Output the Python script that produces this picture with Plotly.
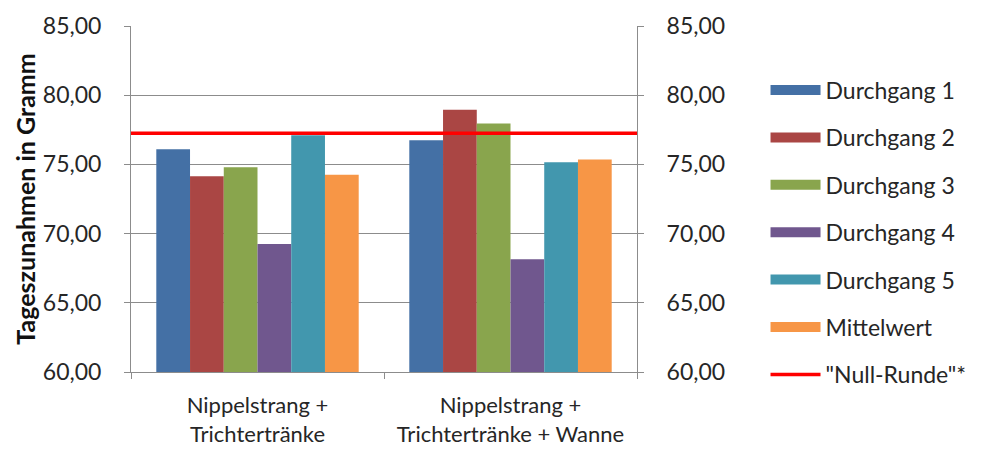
import plotly.graph_objects as go

categories = ["Nippelstrang +<br>Trichtertränke", "Nippelstrang +<br>Trichtertränke + Wanne"]
series_names = ["Durchgang 1", "Durchgang 2", "Durchgang 3", "Durchgang 4", "Durchgang 5", "Mittelwert"]
durchgang_1 = [76.10, 76.75]
durchgang_2 = [74.15, 78.95]
durchgang_3 = [74.80, 77.95]
durchgang_4 = [69.25, 68.15]
durchgang_5 = [77.10, 75.15]
mittelwert = [74.25, 75.35]
null_runde = 77.25
null_runde_name = '"Null-Runde"*'
y_ticks = [60, 65, 70, 75, 80, 85]

series_values = [durchgang_1, durchgang_2, durchgang_3, durchgang_4, durchgang_5, mittelwert]
colors = ['#4470A5', '#AA4644', '#89A54D', '#70578E', '#4297AE', '#F79646']

font_family = "Lato, Carlito, Calibri, sans-serif"
grid_color = '#8C8C8C'
text_color = '#262626'

fig = go.Figure()

for i, (name, vals) in enumerate(zip(series_names, series_values)):
    fig.add_trace(go.Bar(
        x=categories, y=vals, name=name,
        marker_color=colors[i], marker_line_width=0,
        legendgroup=name, showlegend=False,
    ))
    # wide legend swatch like the Excel original
    fig.add_trace(go.Scatter(
        x=[None], y=[None], mode='lines', name=name,
        line=dict(color=colors[i], width=13),
        legendgroup=name, legendrank=i + 1,
    ))

# red reference line across the full plot width (own numeric x axis)
fig.add_trace(go.Scatter(
    x=[0, 1], y=[null_runde, null_runde], mode='lines',
    line=dict(color='#FF0000', width=3.5),
    name=null_runde_name, xaxis='x2', yaxis='y2',
    legendgroup='null', legendrank=7,
))

fig.update_layout(
    width=976, height=442,
    margin=dict(l=123, r=347, t=18, b=78, autoexpand=False),
    barmode='group', bargap=0.2, bargroupgap=0,
    paper_bgcolor='white', plot_bgcolor='white',
    separators=',.',
    font=dict(family=font_family, size=20, color=text_color),
    showlegend=True,
    legend=dict(
        x=1.254, y=0.877, xanchor='left', yanchor='top',
        font=dict(size=23, color=text_color),
        tracegroupgap=14.5, itemwidth=50, maxheight=440,
        bgcolor='rgba(0,0,0,0)',
    ),
    xaxis=dict(
        showgrid=False, showline=True, linecolor=grid_color, linewidth=1,
        ticks='outside', tickson='boundaries', ticklen=6, tickcolor=grid_color,
        ticklabelstandoff=14, automargin=False,
        tickfont=dict(size=22, color=text_color),
    ),
    xaxis2=dict(overlaying='x', range=[0, 1], visible=False, fixedrange=True),
    yaxis=dict(
        range=[60, 85], tickvals=y_ticks, tickformat='.2f',
        showgrid=True, gridcolor=grid_color, gridwidth=1,
        showline=True, linecolor=grid_color, linewidth=1,
        ticks='outside', ticklen=6, tickcolor=grid_color,
        ticklabelstandoff=18, automargin=False,
        zeroline=False,
        tickfont=dict(size=23, color=text_color),
        title=dict(text='<b>Tageszunahmen in Gramm</b>', font=dict(size=25, color='#111'), standoff=0),
    ),
    yaxis2=dict(
        overlaying='y', side='right', anchor='x',
        range=[60, 85], tickvals=y_ticks, tickformat='.2f',
        showgrid=False, showline=True, linecolor=grid_color, linewidth=1,
        ticks='outside', ticklen=6, tickcolor=grid_color,
        ticklabelstandoff=18, automargin=False,
        zeroline=False,
        tickfont=dict(size=23, color=text_color),
    ),
)

fig.write_html("out.html")
